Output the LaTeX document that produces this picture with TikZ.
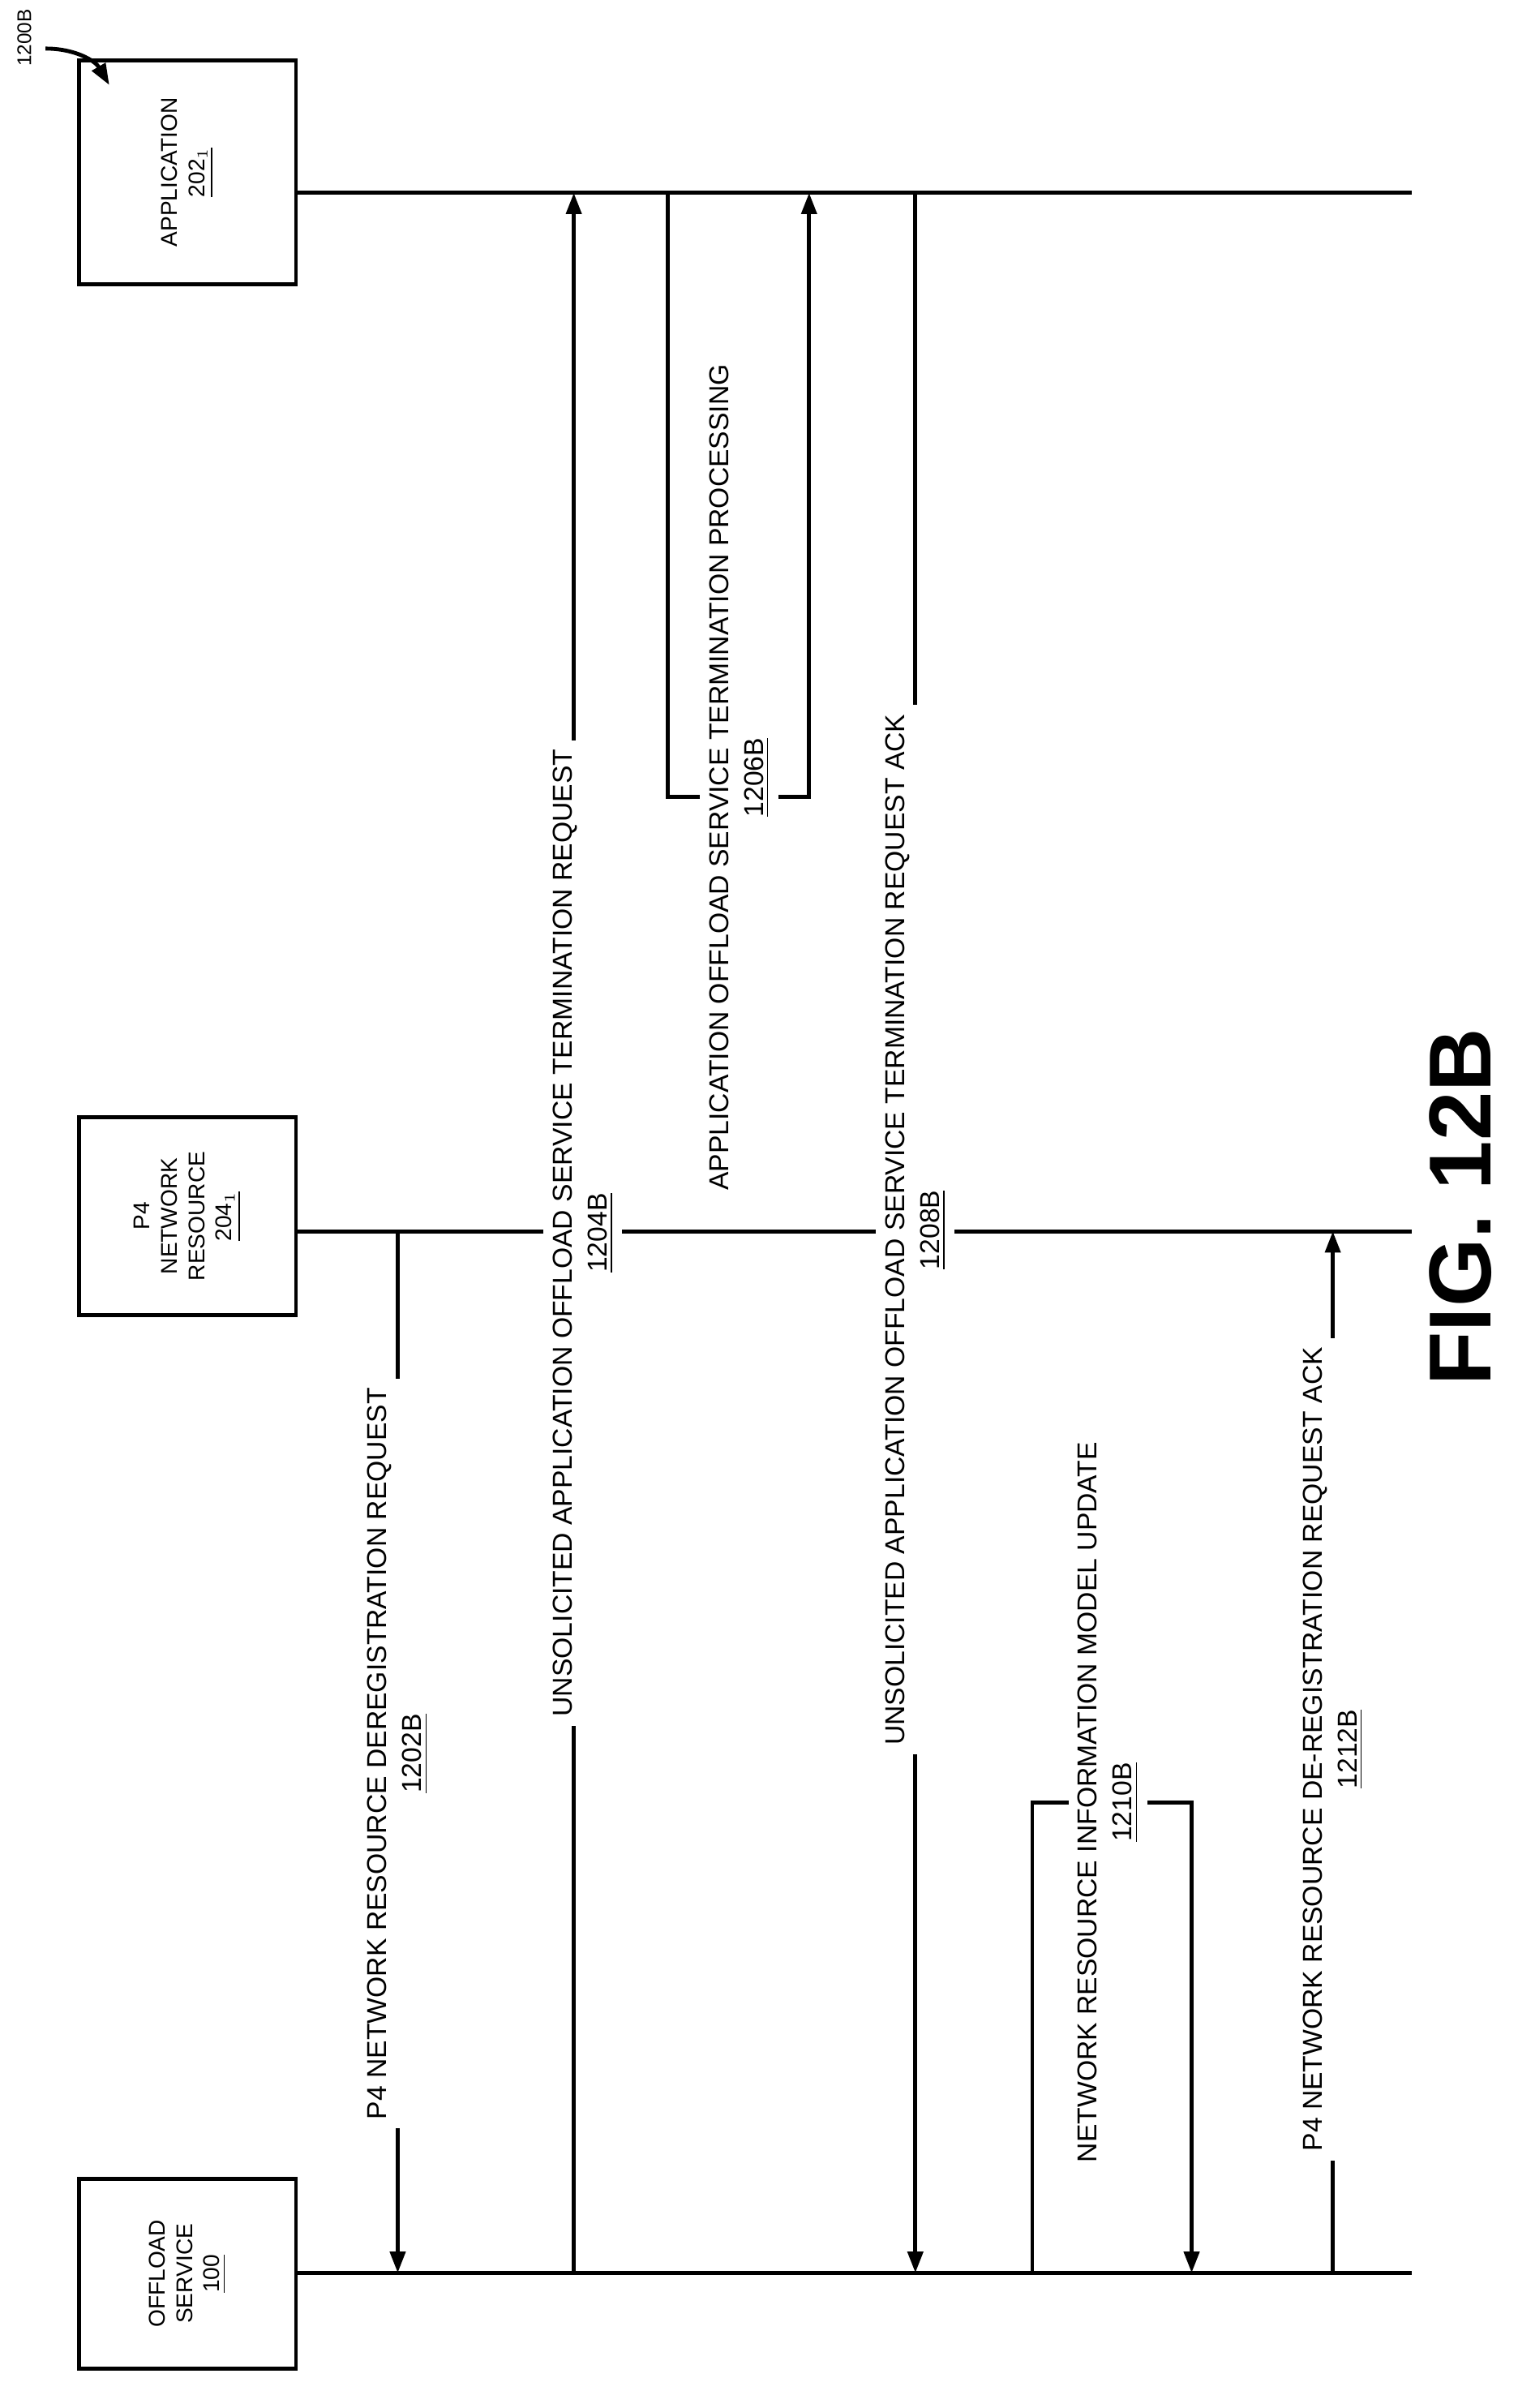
\documentclass[tikz,border=0pt]{standalone}
\usepackage{fontspec}
\setmainfont{Liberation Sans}
\usetikzlibrary{arrows.meta}
\begin{document}
\begin{tikzpicture}[x=0.5pt,y=-0.5pt,
 life/.style={line width=1.3pt},
 msg/.style={line width=1.3pt,-{Triangle[length=7pt,width=5pt]}},
 lbl/.style={rotate=90,fill=white,align=center,inner sep=3pt,font=\fontsize{9}{11.5}\selectfont}]
\useasboundingbox (0,0) rectangle (1000,1586);
% boxes
\draw[line width=1.3pt] (52,40) rectangle (195,187);
\node[rotate=90,align=center,font=\fontsize{7.5}{9}\selectfont] (app) at (123.5,113.5) {APPLICATION\\\underline{202$_1$}};
\draw[line width=1.3pt] (52,736) rectangle (195,866);
\node[rotate=90,align=center,font=\fontsize{7.5}{9}\selectfont] (p4) at (123.5,801) {P4\\NETWORK\\RESOURCE\\\underline{204$_1$}};
\draw[line width=1.3pt] (52,1435) rectangle (195,1560);
\node[rotate=90,align=center,font=\fontsize{7.5}{9}\selectfont] (off) at (123.5,1497.5) {OFFLOAD\\SERVICE\\\underline{100}};
% lifelines
\draw[life] (195,127) -- (930,127);
\draw[life] (195,811) -- (930,811);
\draw[life] (195,1497) -- (930,1497);
% 1200B
\node[rotate=90,font=\fontsize{6.5}{8}\selectfont] (ref) at (16,25) {1200B};
\coordinate (refa) at (30,32);
\coordinate (refb) at (72,56);
\draw[line width=1.3pt,-{Triangle[length=7pt,width=5pt]}] (refa) to[bend left=30] (refb);
% messages
\draw[msg] (262,811) -- (262,1497);
\node[lbl] (m1) at (262,1155) {P4 NETWORK RESOURCE DEREGISTRATION REQUEST\\\underline{1202B}};
\draw[msg] (378,1497) -- (378,127);
\node[lbl] (m2) at (384,812) {UNSOLICITED APPLICATION OFFLOAD SERVICE TERMINATION REQUEST\\\underline{1204B}};
\draw[msg] (440,127) -- (440,525) -- (533,525) -- (533,127);
\node[lbl] (m3) at (487,512) {APPLICATION OFFLOAD SERVICE TERMINATION PROCESSING\\\underline{1206B}};
\draw[msg] (603,127) -- (603,1497);
\node[lbl] (m4) at (603,810) {UNSOLICITED APPLICATION OFFLOAD SERVICE TERMINATION REQUEST ACK\\\underline{1208B}};
\draw[msg] (680,1497) -- (680,1187) -- (785,1187) -- (785,1497);
\node[lbl] (m5) at (730,1187) {NETWORK RESOURCE INFORMATION MODEL UPDATE\\\underline{1210B}};
\draw[msg] (878,1497) -- (878,811);
\node[lbl] (m6) at (878,1152) {P4 NETWORK RESOURCE DE-REGISTRATION REQUEST ACK\\\underline{1212B}};
\node[rotate=90,font=\bfseries\fontsize{29}{34}\selectfont] (fig) at (962,795) {FIG. 12B};
\end{tikzpicture}
\end{document}
